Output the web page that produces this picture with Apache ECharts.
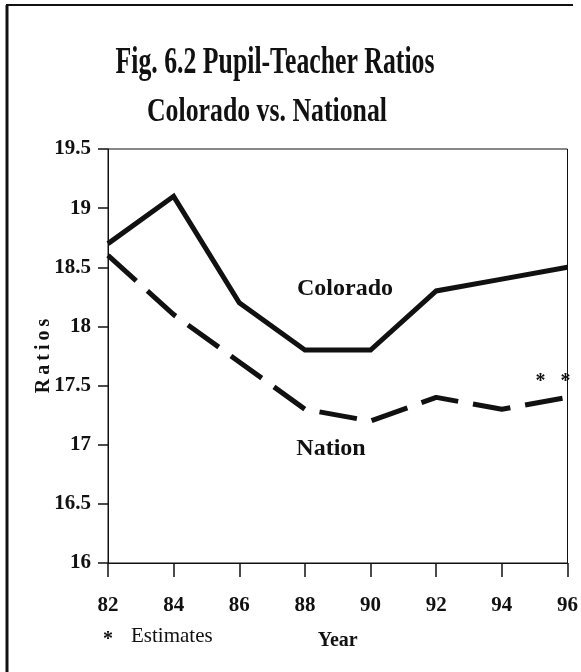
<!DOCTYPE html>
<html>
<head>
<meta charset="utf-8">
<script src="https://cdn.jsdelivr.net/npm/echarts@6/dist/echarts.min.js"></script>
<style>
  html, body { margin: 0; padding: 0; background: #fff; }
  #chart { width: 581px; height: 672px; }
</style>
</head>
<body>
<div id="chart"></div>
<script>
// Pupil-teacher ratios, Colorado vs. the nation, 1982-1996
const years = ['82', '84', '86', '88', '90', '92', '94', '96'];
const colorado = [18.7, 19.1, 18.2, 17.8, 17.8, 18.3, 18.4, 18.5];
const nation = [18.6, 18.1, 17.7, 17.3, 17.2, 17.4, 17.3, 17.4];
const yTicks = { min: 16, max: 19.5, step: 0.5 };

const SERIF = '"Liberation Serif", "Times New Roman", serif';
const INK = '#111';

// Condensed bold headings: measure the natural width, then squeeze horizontally
function squeeze(text, font, targetWidth) {
  const ctx = document.createElement('canvas').getContext('2d');
  ctx.font = font;
  return targetWidth / ctx.measureText(text).width;
}
const titleText = 'Fig. 6.2 Pupil-Teacher Ratios';
const subText = 'Colorado vs. National';
const titleFont = 'bold 37px ' + SERIF;
const subFont = 'bold 34px ' + SERIF;

const chart = echarts.init(document.getElementById('chart'), null, { renderer: 'canvas' });

const option = {
  backgroundColor: '#fff',
  animation: false,
  grid: {
    left: 108, right: 10, top: 149, bottom: 109,
    show: true, borderColor: INK, borderWidth: 1, backgroundColor: 'transparent'
  },
  xAxis: {
    type: 'category',
    data: years,
    boundaryGap: false,
    name: 'Year',
    nameLocation: 'middle',
    nameGap: 68,
    nameMoveOverlap: false,
    nameTextStyle: { fontFamily: SERIF, fontWeight: 'bold', fontSize: 20, color: INK },
    axisLine: { lineStyle: { color: INK, width: 1 } },
    axisTick: { show: true, alignWithLabel: true, length: 14, lineStyle: { color: INK, width: 1.5 } },
    axisLabel: { margin: 32, fontFamily: SERIF, fontWeight: 'bold', fontSize: 21, color: INK },
    splitLine: { show: false }
  },
  yAxis: {
    type: 'value',
    min: yTicks.min,
    max: yTicks.max,
    interval: yTicks.step,
    name: 'R\u2009a\u2009t\u2009i\u2009o\u2009s',
    nameLocation: 'middle',
    nameRotate: 90,
    nameGap: 54,
    nameMoveOverlap: false,
    nameTextStyle: { fontFamily: SERIF, fontWeight: 'bold', fontSize: 20, color: INK },
    axisLine: { show: true, lineStyle: { color: INK, width: 1 } },
    axisTick: { show: true, length: 10, lineStyle: { color: INK, width: 1.5 } },
    axisLabel: { margin: 17, fontFamily: SERIF, fontWeight: 'bold', fontSize: 21, color: INK },
    splitLine: { show: false }
  },
  series: [
    {
      name: 'Colorado',
      type: 'line',
      data: colorado,
      symbol: 'none',
      lineStyle: { color: INK, width: 5, join: 'miter' }
    },
    {
      name: 'Nation',
      type: 'line',
      data: nation,
      symbol: 'none',
      lineStyle: { color: INK, width: 5, type: [38, 15] }
    }
  ],
  graphic: [
    // page frame (left and top edges)
    { type: 'line', shape: { x1: 7, y1: 5, x2: 7, y2: 672 }, style: { stroke: INK, lineWidth: 3 } },
    { type: 'line', shape: { x1: 6, y1: 5, x2: 573, y2: 5 }, style: { stroke: INK, lineWidth: 2 } },
    {
      type: 'text', x: 275, y: 63, scaleX: squeeze(titleText, titleFont, 319),
      style: { text: titleText, font: titleFont, fill: INK, textAlign: 'center', textVerticalAlign: 'middle' }
    },
    {
      type: 'text', x: 267, y: 112, scaleX: squeeze(subText, subFont, 240),
      style: { text: subText, font: subFont, fill: INK, textAlign: 'center', textVerticalAlign: 'middle' }
    },
    {
      type: 'text', x: 345, y: 289,
      style: { text: 'Colorado', font: 'bold 24px ' + SERIF, fill: INK, textAlign: 'center', textVerticalAlign: 'middle' }
    },
    {
      type: 'text', x: 331, y: 449,
      style: { text: 'Nation', font: 'bold 24px ' + SERIF, fill: INK, textAlign: 'center', textVerticalAlign: 'middle' }
    },
    {
      type: 'text', x: 553, y: 382,
      style: { text: '*   *', font: 'bold 20px ' + SERIF, fill: INK, textAlign: 'center', textVerticalAlign: 'middle' }
    },
    {
      type: 'text', x: 108, y: 640,
      style: { text: '*', font: 'bold 20px ' + SERIF, fill: INK, textAlign: 'center', textVerticalAlign: 'middle' }
    },
    {
      type: 'text', x: 131, y: 636,
      style: { text: 'Estimates', font: '21px ' + SERIF, fill: INK, textAlign: 'left', textVerticalAlign: 'middle' }
    }
  ]
};

chart.setOption(option);
</script>
</body>
</html>
